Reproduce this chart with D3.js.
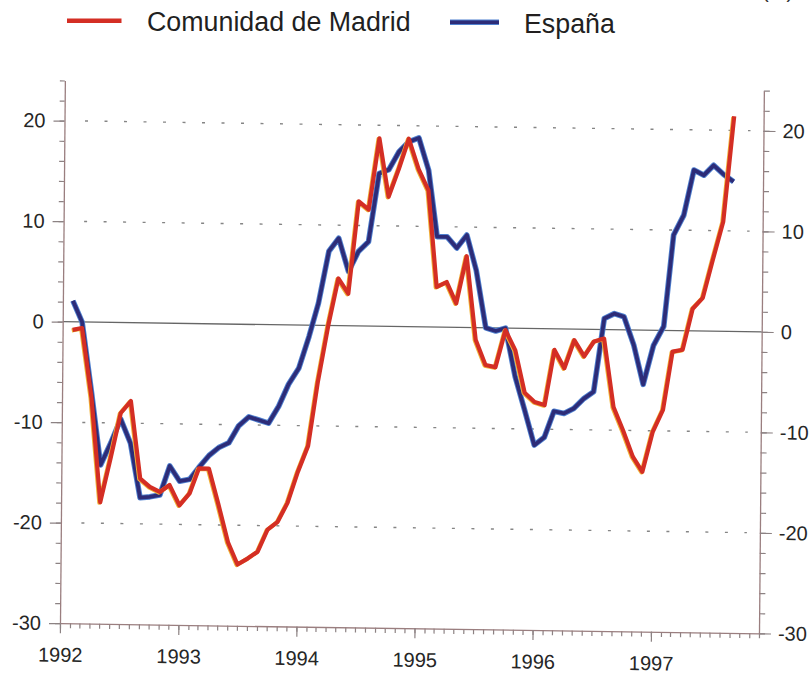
<!DOCTYPE html>
<html>
<head>
<meta charset="utf-8">
<script src="https://cdn.jsdelivr.net/npm/d3@7"></script>
<style>
  body { margin: 0; background: #fff; }
  svg { display: block; font-family: "Liberation Sans", Arial, Helvetica, sans-serif; }
</style>
</head>
<body>
<div id="chart"></div>
<script>
/* DATA */
// monthly observations, Feb 1992 - Sep 1997
const months = [
  "1992-02", "1992-03", "1992-04", "1992-05", "1992-06", "1992-07", "1992-08", "1992-09", "1992-10", "1992-11", "1992-12",
  "1993-01", "1993-02", "1993-03", "1993-04", "1993-05", "1993-06", "1993-07", "1993-08", "1993-09", "1993-10", "1993-11", "1993-12",
  "1994-01", "1994-02", "1994-03", "1994-04", "1994-05", "1994-06", "1994-07", "1994-08", "1994-09", "1994-10", "1994-11", "1994-12",
  "1995-01", "1995-02", "1995-03", "1995-04", "1995-05", "1995-06", "1995-07", "1995-08", "1995-09", "1995-10", "1995-11", "1995-12",
  "1996-01", "1996-02", "1996-03", "1996-04", "1996-05", "1996-06", "1996-07", "1996-08", "1996-09", "1996-10", "1996-11", "1996-12",
  "1997-01", "1997-02", "1997-03", "1997-04", "1997-05", "1997-06", "1997-07", "1997-08", "1997-09"
];

const madrid = [
  -0.8, -0.6, -7.5, -17.9, -13.5, -9.0, -7.8, -15.5, -16.3, -16.8, -16.1,
  -18.1, -16.9, -14.4, -14.4, -17.9, -21.7, -23.9, -23.3, -22.6, -20.4, -19.6, -17.7,
  -14.6, -12.0, -5.7, 0.0, 4.7, 3.2, 12.4, 11.6, 18.7, 12.9, 15.7, 18.7,
  15.7, 13.6, 4.0, 4.5, 2.4, 7.1, -1.2, -3.7, -3.9, -0.2, -2.2, -6.4,
  -7.3, -7.6, -2.1, -3.9, -1.1, -2.7, -1.2, -0.9, -7.7, -10.0, -12.6, -14.1,
  -10.1, -7.9, -2.1, -1.9, 2.2, 3.3, 7.1, 10.9, 21.4
];

const espana = [
  2.1, 0.0, -7.0, -14.2, -12.0, -9.6, -12.0, -17.4, -17.3, -17.1, -14.2,
  -15.7, -15.5, -14.3, -13.1, -12.3, -11.8, -10.1, -9.2, -9.5, -9.8, -8.1, -5.9,
  -4.3, -1.1, 2.2, 7.4, 8.7, 5.4, 7.4, 8.4, 15.2, 15.6, 17.4, 18.4,
  18.8, 15.6, 9.0, 9.0, 7.9, 9.2, 5.7, 0.0, -0.3, 0.0, -4.8, -8.1,
  -11.6, -10.8, -8.2, -8.4, -7.9, -6.9, -6.2, 1.1, 1.6, 1.3, -1.5, -5.4,
  -1.5, 0.4, 9.5, 11.5, 16.0, 15.5, 16.5, 15.6, 14.9
];

const yearLabels = ["1992", "1993", "1994", "1995", "1996", "1997"];
const yMajor = [-30, -20, -10, 0, 10, 20];
const yMinor = [-30, -28, -26, -24, -22, -20, -18, -16, -14, -12, -10, -8, -6, -4, -2,
  0, 2, 4, 6, 8, 10, 12, 14, 16, 18, 20, 22, 24];
const gridValues = [20, 10, -10, -20];
const seriesNames = ["Comunidad de Madrid", "España"];
const footNote = "(%)";

/* CONSTANTS */
const width = 812, height = 675;
const plot = { left: 62, right: 761, bottom: 623.5, top: 80.8 };
const red = "#d42e24", navy = "#2d2c78", blueHalo = "#4f80cf";
// the scanned page is slightly tilted, so the plot gets a small skew
const tilt = "matrix(1,0.0145,-0.009,1,3.6,-1.2)";

const parseMonth = d3.timeParse("%Y-%m");
const dates = months.map(parseMonth);
const madridData = dates.map((d, i) => ({ date: d, value: madrid[i] }));
const espanaData = dates.map((d, i) => ({ date: d, value: espana[i] }));

/* SCALES */
const xScale = d3.scaleTime()
  .domain([parseMonth("1992-01"), parseMonth("1997-12")])
  .range([plot.left, plot.right]);

const yScale = d3.scaleLinear()
  .domain([-30, 24])
  .range([plot.bottom, plot.top]);

const plainNumber = d => String(d); // hyphen minus, as in the original

/* SVG */
const svg = d3.select("#chart")
  .append("svg")
  .attr("width", width)
  .attr("height", height);

svg.append("rect")
  .attr("width", width)
  .attr("height", height)
  .attr("fill", "#fff");

const g = svg.append("g").attr("transform", tilt);

// dotted grid
g.selectAll(".grid")
  .data(gridValues)
  .join("line")
  .attr("class", "grid")
  .attr("x1", 82.5)
  .attr("x2", 748)
  .attr("y1", d => yScale(d))
  .attr("y2", d => yScale(d))
  .attr("stroke", "#858585")
  .attr("stroke-width", 1.4)
  .attr("stroke-dasharray", "3 16.5");

// zero line
g.append("line")
  .attr("x1", plot.left)
  .attr("x2", plot.right)
  .attr("y1", yScale(0))
  .attr("y2", yScale(0))
  .attr("stroke", "#666")
  .attr("stroke-width", 1.3);

function styleAxis(sel) {
  sel.select(".domain").attr("stroke", "#9a7e7f").attr("stroke-width", 1.3);
  sel.selectAll(".tick line").attr("stroke", "#8c8283").attr("stroke-width", 1.2);
  sel.selectAll(".tick text")
    .attr("fill", "#262626")
    .style("font-size", "20px")
    .style("font-family", "'Liberation Sans', Arial, sans-serif");
}

// AXES
// left
g.append("g")
  .attr("transform", `translate(${plot.left},0)`)
  .call(d3.axisLeft(yScale).tickValues(yMinor).tickSize(5).tickFormat(""))
  .call(sel => sel.select(".domain").remove())
  .call(styleAxis);
g.append("g")
  .attr("transform", `translate(${plot.left},0)`)
  .call(d3.axisLeft(yScale).tickValues(yMajor).tickFormat(plainNumber)
    .tickSize(11).tickSizeOuter(0).tickPadding(8))
  .call(styleAxis);

// right
g.append("g")
  .attr("transform", `translate(${plot.right},0)`)
  .call(d3.axisRight(yScale).tickValues(yMinor).tickSize(6).tickFormat(""))
  .call(sel => sel.select(".domain").remove())
  .call(styleAxis);
g.append("g")
  .attr("transform", `translate(${plot.right},0)`)
  .call(d3.axisRight(yScale).tickValues(yMajor).tickFormat(plainNumber)
    .tickSize(12).tickSizeOuter(0).tickPadding(7))
  .call(styleAxis);

// bottom
g.append("g")
  .attr("transform", `translate(0,${plot.bottom})`)
  .call(d3.axisBottom(xScale).ticks(d3.timeMonth.every(1)).tickSize(5).tickFormat(""))
  .call(sel => sel.select(".domain").remove())
  .call(styleAxis);
g.append("g")
  .attr("transform", `translate(0,${plot.bottom})`)
  .call(d3.axisBottom(xScale)
    .tickValues(yearLabels.map(y => parseMonth(y + "-01")))
    .tickFormat(d3.timeFormat("%Y"))
    .tickSize(10)
    .tickSizeOuter(0))
  .call(styleAxis)
  .call(sel => sel.selectAll(".tick text").attr("y", 38.5).attr("dy", 0));

// LINES
const line = d3.line()
  .x(d => xScale(d.date))
  .y(d => yScale(d.value));

g.append("path")
  .datum(espanaData)
  .attr("d", line)
  .attr("fill", "none")
  .attr("stroke", blueHalo)
  .attr("stroke-width", 5.6)
  .attr("stroke-linejoin", "round");
g.append("path")
  .datum(espanaData)
  .attr("d", line)
  .attr("fill", "none")
  .attr("stroke", navy)
  .attr("stroke-width", 3.8)
  .attr("stroke-linejoin", "round");

g.append("path")
  .datum(madridData)
  .attr("d", line)
  .attr("transform", "translate(-0.9,0.6)")
  .attr("fill", "none")
  .attr("stroke", "#f0b238")
  .attr("stroke-width", 4.2)
  .attr("stroke-linejoin", "round");
g.append("path")
  .datum(madridData)
  .attr("d", line)
  .attr("fill", "none")
  .attr("stroke", red)
  .attr("stroke-width", 4.2)
  .attr("stroke-linejoin", "round");

// LEGEND (page coordinates)
const legend = svg.append("g");
legend.append("line")
  .attr("x1", 67).attr("x2", 121.5)
  .attr("y1", 20.7).attr("y2", 20.7)
  .attr("stroke", red).attr("stroke-width", 4.5);
legend.append("text")
  .attr("x", 147).attr("y", 30.7)
  .attr("fill", "#221f1f")
  .style("font-size", "26.8px")
  .text(seriesNames[0]);

legend.append("line")
  .attr("x1", 450).attr("x2", 499)
  .attr("y1", 22.3).attr("y2", 22.3)
  .attr("stroke", blueHalo).attr("stroke-width", 5.4);
legend.append("line")
  .attr("x1", 450).attr("x2", 499)
  .attr("y1", 22.3).attr("y2", 22.3)
  .attr("stroke", navy).attr("stroke-width", 3.4);
legend.append("text")
  .attr("x", 524).attr("y", 33.3)
  .attr("fill", "#221f1f")
  .style("font-size", "26.8px")
  .text(seriesNames[1]);

// cut-off note at the top right edge, as on the scanned page
svg.append("text")
  .attr("x", 762).attr("y", -2.5)
  .attr("fill", "#333")
  .style("font-size", "20px")
  .text(footNote);
</script>
</body>
</html>
